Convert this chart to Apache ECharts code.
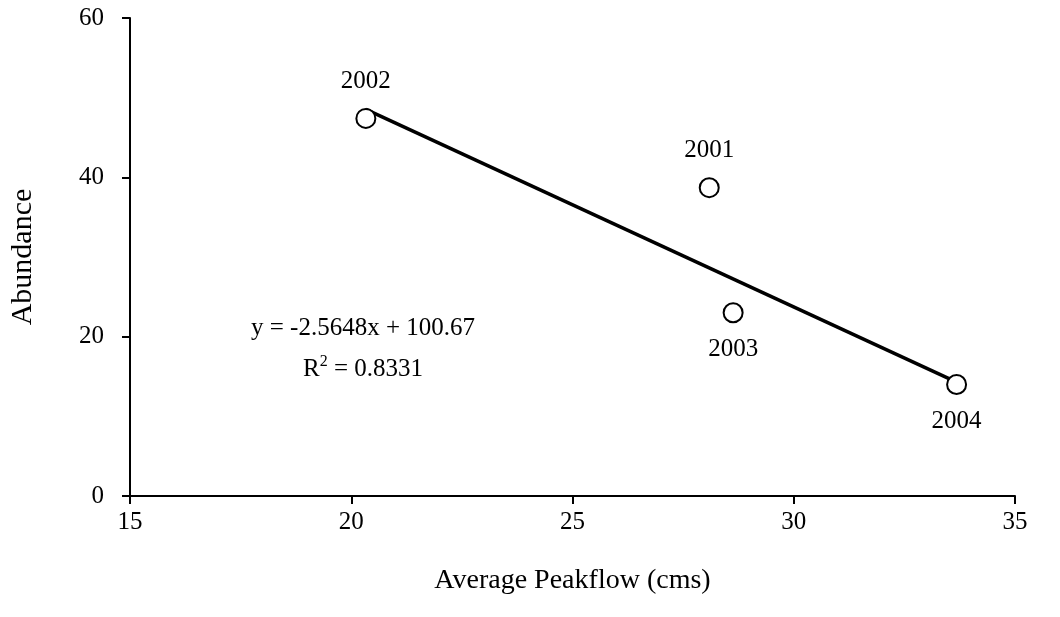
<!DOCTYPE html>
<html>
<head>
<meta charset="utf-8">
<title>Abundance vs Average Peakflow</title>
<script src="https://cdn.jsdelivr.net/npm/echarts@6/dist/echarts.min.js"></script>
<style>
  html, body { margin: 0; padding: 0; background: #fff; }
  #chart { width: 1060px; height: 617px; }
</style>
</head>
<body>
<div id="chart"></div>
<script>
// Yearly observations
const years = ['2001', '2002', '2003', '2004'];
const peakflow = [28.09, 20.33, 28.63, 33.68];   // average peakflow (cms)
const abundance = [38.7, 47.4, 23.0, 14.0];

// Linear trend stated on the chart
const slope = -2.5648;
const intercept = 100.67;
const rSquared = 0.8331;

// Axis ticks
const xTicks = [15, 20, 25, 30, 35];
const yTicks = [0, 20, 40, 60];

const FONT = '"Liberation Serif", "Times New Roman", serif';
const FS = 25;

const points = peakflow.map((x, i) => ({
  value: [x, abundance[i]],
  name: years[i],
  label: { position: abundance[i] > 30 ? 'top' : 'bottom' }
}));

const xMin = Math.min(...peakflow);
const xMax = Math.max(...peakflow);
const trend = [
  [xMin, slope * xMin + intercept],
  [xMax, slope * xMax + intercept]
];

const axisCommon = {
  axisLine: { show: true, lineStyle: { color: '#000', width: 2 } },
  axisTick: { show: true, inside: false, length: 8, lineStyle: { color: '#000', width: 2 } },
  splitLine: { show: false },
  nameLocation: 'middle'
};

const chart = echarts.init(document.getElementById('chart'), null, { renderer: 'canvas' });
chart.setOption({
  animation: false,
  backgroundColor: '#fff',
  grid: { left: 129, right: 45, top: 18, bottom: 121, containLabel: false },
  xAxis: Object.assign({}, axisCommon, {
    type: 'value',
    min: xTicks[0],
    max: xTicks[xTicks.length - 1],
    interval: xTicks[1] - xTicks[0],
    name: 'Average Peakflow (cms)',
    nameGap: 71,
    nameTextStyle: { fontFamily: FONT, fontSize: 28, color: '#000' },
    axisLabel: { margin: 14, fontFamily: FONT, fontSize: FS, color: '#000' }
  }),
  yAxis: Object.assign({}, axisCommon, {
    type: 'value',
    min: yTicks[0],
    max: yTicks[yTicks.length - 1],
    interval: yTicks[1] - yTicks[0],
    name: 'Abundance',
    nameGap: 92,
    nameTextStyle: { fontFamily: FONT, fontSize: 30, color: '#000' },
    axisLabel: { margin: 26, fontFamily: FONT, fontSize: FS, color: '#000' }
  }),
  series: [
    {
      type: 'line',
      data: trend,
      symbol: 'none',
      lineStyle: { color: '#000', width: 3.5 },
      silent: true,
      z: 2
    },
    {
      type: 'scatter',
      data: points,
      symbol: 'circle',
      symbolSize: 19,
      itemStyle: { color: '#fff', borderColor: '#000', borderWidth: 2, opacity: 1 },
      label: {
        show: true,
        formatter: p => p.name,
        distance: 14,
        fontFamily: FONT,
        fontSize: FS,
        color: '#000',
        opacity: 1,
        textBorderWidth: 0
      },
      z: 3
    }
  ],
  graphic: [
    {
      type: 'text',
      x: 363,
      y: 328,
      style: {
        text: 'y = ' + slope.toFixed(4) + 'x + ' + intercept.toFixed(2),
        font: FS + 'px ' + FONT,
        fill: '#000',
        align: 'center',
        verticalAlign: 'middle'
      }
    },
    {
      type: 'text',
      x: 363,
      y: 368,
      style: {
        text: '{a|R}{s|2}{a| = ' + rSquared.toFixed(4) + '}',
        fill: '#000',
        align: 'center',
        verticalAlign: 'middle',
        rich: {
          a: { fontFamily: FONT, fontSize: FS, color: '#000', verticalAlign: 'bottom', lineHeight: 28 },
          s: { fontFamily: FONT, fontSize: 16, color: '#000', verticalAlign: 'top', lineHeight: 28, padding: [0, 0, 12, 0] }
        }
      }
    }
  ]
});
</script>
</body>
</html>
